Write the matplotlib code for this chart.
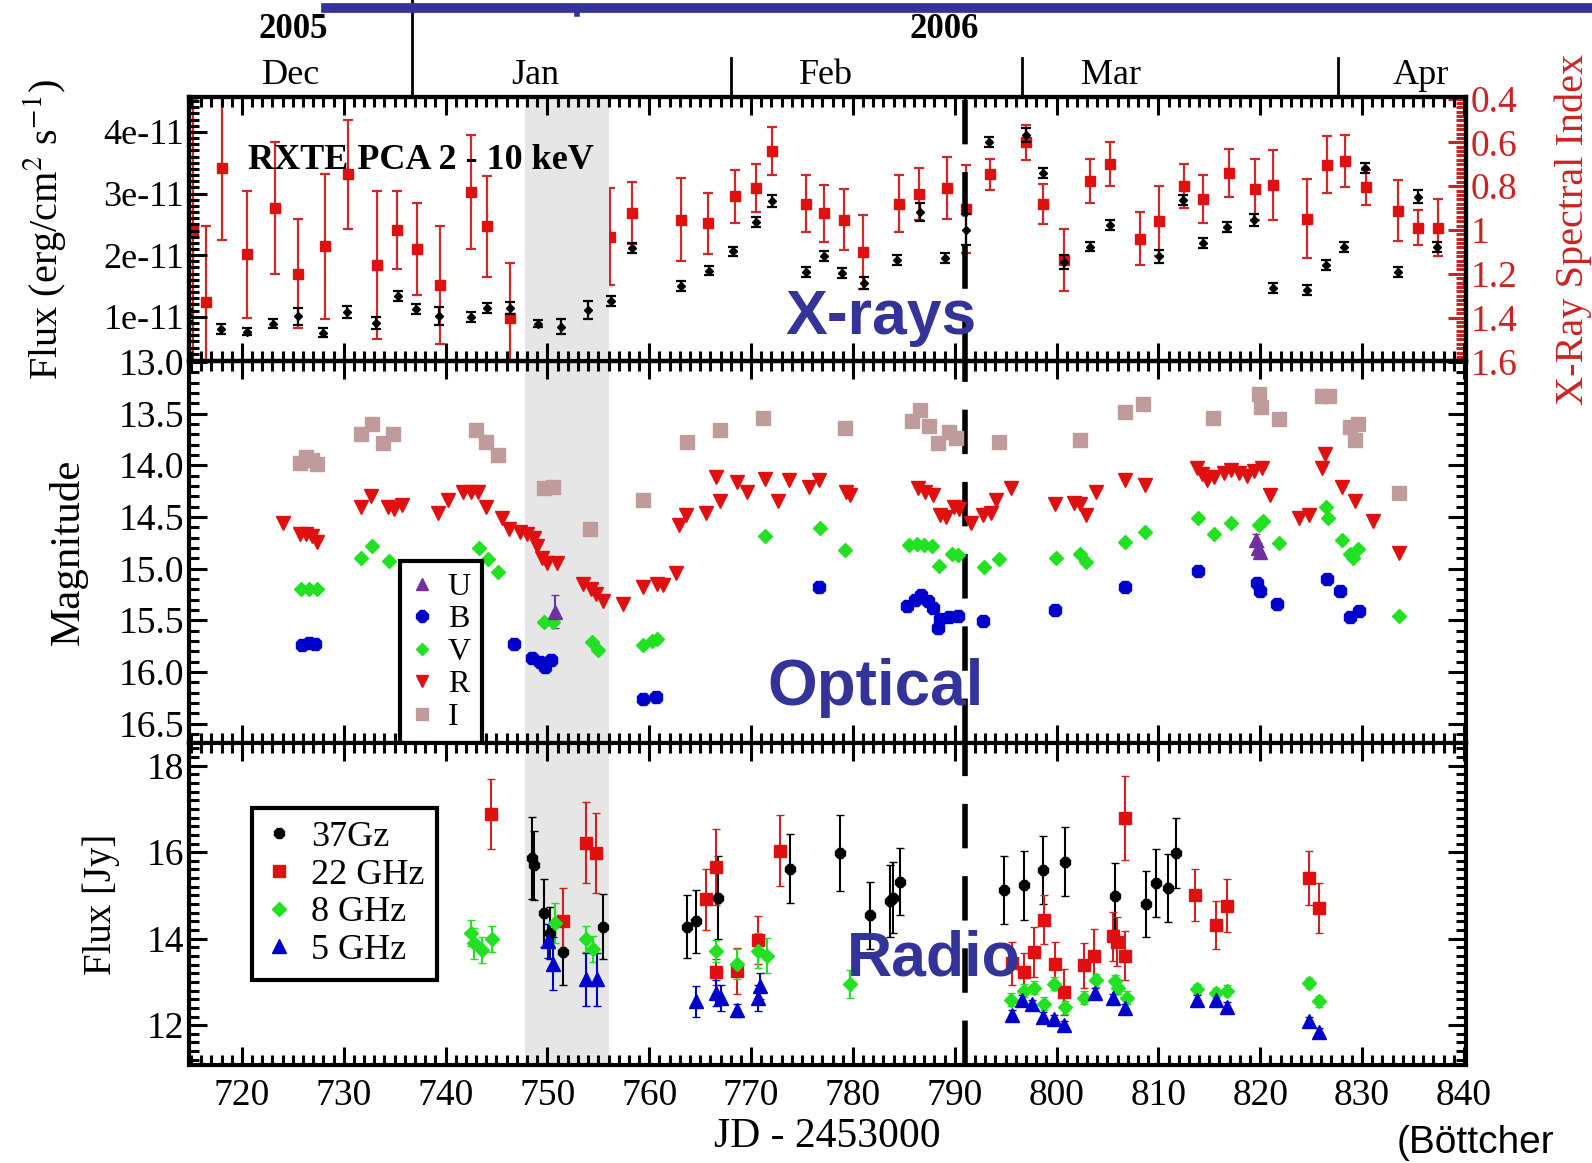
import matplotlib
matplotlib.use("Agg")
import matplotlib.pyplot as plt
from matplotlib.ticker import MultipleLocator, FixedLocator, FixedFormatter
from matplotlib.lines import Line2D

plt.rcParams['font.family'] = ['Liberation Serif', 'DejaVu Serif']
plt.rcParams['mathtext.fontset'] = 'stix'

# ---------------- X-rays: RXTE PCA 2-10 keV ----------------
xray_t = [714.7, 717.9, 720.5, 723.1, 725.5, 728.0, 730.3, 733.2, 735.3, 737.1, 739.4,
          742.5, 744.1, 746.3, 749.1, 751.3, 754.0, 756.2, 758.3, 763.1, 765.9, 768.2,
          770.5, 772.1, 775.4, 777.2, 778.9, 781.1, 784.3, 786.6, 789.0, 791.1, 793.4,
          797.0, 798.7, 800.7, 803.3, 805.2, 810.1, 812.4, 814.4, 816.7, 819.4, 821.3,
          824.6, 826.5, 828.2, 830.3, 833.5, 835.5, 837.4, 840.4]
xray_flux = [1.03, 0.80, 0.76, 0.89, 1.01, 0.74, 1.08, 0.90, 1.34, 1.12, 1.01,
             1.00, 1.14, 1.14, 0.89, 0.84, 1.11, 1.25, 2.11, 1.50, 1.75, 2.06,
             2.54, 2.88, 1.73, 1.98, 1.71, 1.55, 1.92, 2.70, 1.95, 2.41, 3.84,
             3.95, 3.33, 1.89, 2.14, 2.49, 1.98, 2.89, 2.20, 2.46, 2.57, 1.46,
             1.43, 1.84, 2.13, 3.41, 1.72, 2.95, 2.13, 1.19]   # 1e-11 erg/cm2/s
xray_flux_err = [0.10, 0.08, 0.06, 0.08, 0.14, 0.07, 0.10, 0.10, 0.08, 0.08, 0.15,
                 0.08, 0.08, 0.10, 0.06, 0.12, 0.15, 0.08, 0.08, 0.08, 0.08, 0.08,
                 0.08, 0.10, 0.08, 0.08, 0.08, 0.10, 0.08, 0.14, 0.08, 0.25, 0.08,
                 0.12, 0.08, 0.12, 0.08, 0.08, 0.10, 0.08, 0.08, 0.08, 0.10, 0.08,
                 0.08, 0.08, 0.08, 0.08, 0.08, 0.10, 0.08, 0.08]
index_t = [715.2, 716.5, 718.0, 720.5, 723.2, 725.5, 728.2, 730.4, 733.3, 735.2, 737.2,
           739.5, 742.5, 744.1, 746.3, 749.3, 751.3, 754.0, 756.1, 758.3, 763.1, 765.8,
           768.4, 770.5, 772.1, 775.4, 777.2, 779.1, 781.0, 784.5, 786.5, 789.2, 791.1,
           793.5, 797.0, 798.7, 800.7, 803.3, 805.2, 808.2, 810.1, 812.5, 814.4, 816.9,
           819.5, 821.3, 824.6, 826.6, 828.3, 830.4, 833.5, 835.5, 837.5, 840.4]
index_val = [1.00, 1.33, 0.715, 1.11, 0.90, 1.20, 1.075, 0.746, 1.16, 1.00, 1.087,
             1.25, 0.826, 0.984, 1.40, 0.984, 1.42, 1.22, 1.03, 0.923, 0.953, 0.969,
             0.846, 0.81, 0.64, 0.881, 0.923, 0.953, 1.10, 0.881, 0.836, 0.808, 0.903,
             0.746, 0.60, 0.881, 1.137, 0.777, 0.70, 1.04, 0.96, 0.80, 0.857, 0.739,
             0.815, 0.795, 0.949, 0.703, 0.685, 0.805, 0.912, 0.989, 0.989, 1.237]
index_err = [0.60, 0.35, 0.33, 0.29, 0.30, 0.25, 0.33, 0.25, 0.34, 0.18, 0.21,
             0.27, 0.26, 0.23, 0.25, 0.25, 0.25, 0.21, 0.22, 0.14, 0.19, 0.14,
             0.12, 0.11, 0.11, 0.13, 0.13, 0.14, 0.17, 0.13, 0.12, 0.14, 0.20,
             0.07, 0.08, 0.09, 0.14, 0.10, 0.10, 0.12, 0.16, 0.10, 0.11, 0.11,
             0.14, 0.16, 0.18, 0.13, 0.12, 0.08, 0.14, 0.08, 0.13, 0.10]

# ---------------- Optical magnitudes ----------------
U_t = [750.7, 819.6, 819.8, 820.0]
U_mag = [15.42, 14.72, 14.80, 14.84]
U_err = [0.16, 0.05, 0.05, 0.05]
B_t = [725.9, 726.6, 727.2, 746.7, 748.5, 749.3, 749.8, 750.4, 759.4, 760.7, 776.7,
       785.3, 786.1, 786.7, 787.4, 787.9, 788.4, 788.6, 789.4, 790.3, 792.8, 799.8,
       806.7, 813.9, 819.7, 820.0, 821.6, 826.6, 827.8, 828.8, 829.7]
B_mag = [15.74, 15.72, 15.73, 15.73, 15.87, 15.90, 15.95, 15.89, 16.26, 16.24, 15.18,
         15.36, 15.30, 15.26, 15.31, 15.38, 15.58, 15.49, 15.47, 15.46, 15.51, 15.40,
         15.18, 15.02, 15.14, 15.22, 15.34, 15.10, 15.22, 15.47, 15.41]
V_t = [725.8, 726.6, 727.4, 731.7, 732.8, 734.4, 743.3, 744.2, 745.1, 749.7, 750.5,
       754.4, 755.0, 759.4, 760.3, 760.8, 771.4, 776.8, 779.2, 785.5, 786.3, 787.0,
       787.8, 788.5, 789.7, 790.3, 792.9, 794.3, 799.9, 802.3, 802.9, 806.7, 808.7,
       813.9, 815.5, 817.1, 819.9, 820.3, 821.8, 826.5, 826.7, 828.0, 828.8, 829.1,
       829.6, 833.6]
V_mag = [15.20, 15.20, 15.20, 14.90, 14.78, 14.93, 14.80, 14.91, 15.03, 15.52, 15.52,
         15.71, 15.79, 15.74, 15.70, 15.68, 14.69, 14.61, 14.82, 14.77, 14.76, 14.77,
         14.78, 14.98, 14.86, 14.87, 14.99, 14.91, 14.90, 14.86, 14.94, 14.74, 14.65,
         14.51, 14.67, 14.56, 14.58, 14.54, 14.75, 14.40, 14.51, 14.72, 14.86, 14.90,
         14.81, 15.46]
R_t = [724.0, 725.7, 726.3, 726.9, 727.4, 731.7, 732.7, 734.3, 734.9, 735.7, 739.3,
       740.2, 741.7, 742.5, 743.2, 744.0, 745.5, 746.2, 747.3, 748.0, 748.7, 749.0,
       749.5, 750.0, 750.9, 753.5, 754.3, 754.8, 755.5, 757.4, 759.4, 760.8, 761.4,
       762.6, 762.9, 763.6, 765.6, 766.6, 766.9, 768.6, 769.6, 771.4, 772.6, 773.7,
       775.7, 776.7, 779.3, 779.7, 786.4, 787.1, 787.9, 788.6, 789.1, 789.9, 790.4,
       791.6, 792.8, 793.6, 794.1, 795.5, 799.8, 801.7, 802.3, 802.9, 803.9, 806.7,
       808.7, 813.8, 814.3, 814.8, 815.5, 816.4, 817.1, 817.9, 818.7, 819.4, 820.2,
       821.0, 823.8, 824.8, 826.1, 826.4, 828.0, 829.3, 831.1, 833.6]
R_mag = [14.56, 14.67, 14.67, 14.69, 14.74, 14.40, 14.30, 14.40, 14.42, 14.39, 14.46,
         14.34, 14.26, 14.26, 14.26, 14.40, 14.51, 14.62, 14.65, 14.67, 14.70, 14.78,
         14.90, 14.95, 14.95, 15.15, 15.20, 15.25, 15.31, 15.34, 15.18, 15.15, 15.16,
         15.04, 14.58, 14.48, 14.46, 14.11, 14.35, 14.16, 14.26, 14.13, 14.35, 14.14,
         14.21, 14.14, 14.26, 14.29, 14.22, 14.26, 14.29, 14.48, 14.50, 14.40, 14.42,
         14.56, 14.48, 14.46, 14.34, 14.22, 14.38, 14.37, 14.38, 14.48, 14.26, 14.14,
         14.19, 14.03, 14.09, 14.14, 14.11, 14.08, 14.05, 14.08, 14.10, 14.06, 14.03,
         14.29, 14.51, 14.48, 14.03, 13.89, 14.21, 14.35, 14.54, 14.85]
I_t = [725.7, 726.3, 726.9, 727.4, 731.7, 732.8, 733.9, 734.8, 743.0, 744.0, 745.1,
       749.7, 750.5, 754.2, 759.4, 763.7, 766.9, 771.2, 779.2, 785.8, 786.6, 787.5,
       788.4, 789.4, 790.1, 794.3, 802.3, 806.7, 808.5, 815.4, 819.9, 820.1, 821.8,
       826.1, 826.8, 828.8, 829.3, 829.6, 833.6]
I_mag = [13.98, 13.92, 13.95, 13.99, 13.70, 13.60, 13.79, 13.70, 13.66, 13.78, 13.90,
         14.22, 14.21, 14.62, 14.34, 13.78, 13.66, 13.54, 13.64, 13.57, 13.47, 13.62,
         13.79, 13.68, 13.74, 13.78, 13.76, 13.49, 13.41, 13.54, 13.31, 13.44, 13.55,
         13.33, 13.33, 13.63, 13.76, 13.60, 14.27]

# ---------------- Radio fluxes (Jy) ----------------
f37_t = [748.5, 748.7, 749.7, 750.3, 751.5, 755.5, 763.7, 764.6, 766.8, 773.8, 778.7,
         781.7, 783.6, 783.9, 784.6, 794.8, 796.8, 798.7, 800.8, 805.7, 808.8, 809.8,
         810.9, 811.7]
f37 = [15.86, 15.70, 14.60, 14.13, 13.69, 14.28, 14.28, 14.40, 14.95, 15.62, 15.98,
       14.54, 14.87, 14.95, 15.32, 15.13, 15.23, 15.58, 15.78, 14.98, 14.80, 15.29,
       15.17, 15.98]
f37_err = [0.95, 0.80, 0.79, 0.60, 0.75, 0.75, 0.73, 0.73, 0.95, 0.80, 0.87,
           0.78, 0.83, 0.83, 0.77, 0.79, 0.79, 0.79, 0.80, 0.77, 0.76, 0.78,
           0.78, 0.81]
f22_t = [744.5, 751.5, 753.8, 754.8, 765.6, 766.6, 766.6, 768.6, 770.7, 772.8, 795.6,
         796.8, 797.8, 798.8, 799.8, 800.7, 802.7, 803.7, 805.5, 805.9, 806.7, 806.7,
         813.6, 815.7, 816.7, 824.8, 825.8]
f22 = [16.88, 14.40, 16.22, 15.98, 14.91, 15.66, 13.24, 13.26, 13.97, 16.03, 13.43,
       13.22, 13.69, 14.44, 13.42, 12.77, 13.38, 13.61, 14.05, 13.93, 16.79, 13.61,
       15.01, 14.32, 14.76, 15.40, 14.70]
f22_err = [0.81, 0.77, 0.93, 0.93, 0.71, 0.88, 0.30, 0.53, 0.55, 0.82, 0.50,
           0.45, 0.57, 0.56, 0.51, 0.53, 0.51, 0.61, 0.57, 0.57, 0.96, 0.57,
           0.61, 0.55, 0.61, 0.62, 0.58]
f8_t = [742.5, 742.8, 743.6, 744.6, 750.7, 753.8, 754.5, 766.6, 768.6, 770.7, 771.6,
        779.7, 795.5, 796.8, 797.8, 798.8, 799.7, 800.8, 802.7, 803.9, 805.7, 806.0,
        806.9, 813.8, 815.7, 816.7, 824.8, 825.8]
f8 = [14.13, 13.89, 13.73, 13.99, 14.36, 13.99, 13.77, 13.72, 13.42, 13.72, 13.61,
      12.95, 12.59, 12.80, 12.87, 12.49, 12.96, 12.41, 12.63, 13.04, 13.01, 12.87,
      12.63, 12.83, 12.75, 12.80, 12.98, 12.55]
f8_err = [0.30, 0.35, 0.30, 0.30, 0.47, 0.30, 0.30, 0.25, 0.35, 0.40, 0.40,
          0.33, 0.15, 0.15, 0.15, 0.15, 0.15, 0.15, 0.15, 0.15, 0.15, 0.15,
          0.15, 0.12, 0.12, 0.12, 0.12, 0.12]
f5_t = [750.1, 750.5, 753.8, 754.9, 764.6, 766.6, 767.0, 768.6, 770.7, 770.9, 795.6,
        796.6, 797.6, 798.7, 799.7, 800.7, 803.8, 805.5, 806.7, 813.8, 815.7, 816.7,
        824.8, 825.8]
f5 = [13.95, 13.42, 13.06, 13.06, 12.55, 12.75, 12.63, 12.35, 12.63, 12.91, 12.24,
      12.59, 12.49, 12.20, 12.14, 12.00, 12.75, 12.63, 12.39, 12.59, 12.59, 12.43,
      12.09, 11.84]
f5_err = [0.40, 0.61, 0.62, 0.62, 0.35, 0.30, 0.30, 0.15, 0.30, 0.30, 0.10,
          0.10, 0.10, 0.10, 0.10, 0.10, 0.10, 0.10, 0.10, 0.10, 0.10, 0.10,
          0.10, 0.10]

# ---------------- calendar strip ----------------
months = ['Dec', 'Jan', 'Feb', 'Mar', 'Apr']
month_pos = [724.8, 748.8, 777.4, 805.3, 835.8]
month_edges = [768.0, 796.6, 827.6]
years = ['2005', '2006']
year_pos = [725.0, 789.0]
year_edge = 736.7
flare_window = (747.8, 756.0)
jd_mark = 791.0

RED = '#e01010'
GREEN = '#22e022'
BLUE = '#0000cc'
NAVY = '#333399'
TICK = 27

fig = plt.figure(figsize=(15.92, 11.63), dpi=100)
L, W = 0.1187, 0.8021
ax1 = fig.add_axes([L, 0.6893, W, 0.2269])
ax2 = fig.add_axes([L, 0.3610, W, 0.3283], sharex=ax1)
ax3 = fig.add_axes([L, 0.0843, W, 0.2767], sharex=ax1)
axm = fig.add_axes([L, 0.9162, W, 0.0838], sharex=ax1)


def frame(ax, right=True):
    ax.tick_params(which='both', direction='in', top=True, bottom=True,
                   left=True, right=right, width=2.2, labelsize=TICK)
    ax.tick_params(which='major', length=13)
    ax.tick_params(which='minor', length=7)
    ax.xaxis.set_major_locator(MultipleLocator(10))
    ax.xaxis.set_minor_locator(MultipleLocator(1))
    for s in ax.spines.values():
        s.set_linewidth(3)
    ax.axvspan(*flare_window, color='#e6e6e6', zorder=0, lw=0)
    ax.axvline(jd_mark, color='black', lw=4, dashes=(8, 5), zorder=1)


# ---- top panel: X-rays ----
frame(ax1, right=False)
ax1r = ax1.twinx()
ax1r.errorbar(index_t, index_val, yerr=index_err, fmt='s', color=RED, ecolor='#cc2a2a',
              ms=7.5, elinewidth=1.6, capsize=3.5, capthick=1.6, zorder=3)
ax1.errorbar(xray_t, xray_flux, yerr=xray_flux_err, fmt='D', color='black', ms=4,
             elinewidth=1.6, capsize=3.5, capthick=1.6, zorder=4)
ax1.set_zorder(ax1r.get_zorder() + 1)
ax1.patch.set_visible(False)
ax1.set_ylim(0.276, 4.56)
ax1.yaxis.set_major_locator(FixedLocator([1, 2, 3, 4]))
ax1.yaxis.set_major_formatter(FixedFormatter(['1e-11', '2e-11', '3e-11', '4e-11']))
ax1.yaxis.set_minor_locator(MultipleLocator(0.1))
ax1.tick_params(labelbottom=False, labelsize=26)
ax1.set_ylabel('Flux (erg/cm$^{2}$ s$^{-1}$)', fontsize=29)
ax1.yaxis.set_label_coords(-0.095, 0.5)
ax1.text(0.046, 0.76, 'RXTE PCA 2 - 10 keV', transform=ax1.transAxes,
         fontsize=26, fontweight='bold', va='center')

ax1r.set_ylim(1.60, 0.395)
ax1r.yaxis.set_major_locator(FixedLocator([0.4, 0.6, 0.8, 1.0, 1.2, 1.4, 1.6]))
ax1r.yaxis.set_major_formatter(FixedFormatter(['0.4', '0.6', '0.8', '1', '1.2', '1.4', '1.6']))
ax1r.yaxis.set_minor_locator(MultipleLocator(0.02))
ax1r.tick_params(which='both', direction='in', width=2.2, colors='#cc2222',
                 labelsize=TICK, labelcolor='#cc2222')
ax1r.tick_params(which='major', length=13)
ax1r.tick_params(which='minor', length=7)
ax1r.set_ylabel('X-Ray Spectral Index', color='#cc2222', fontsize=29, rotation=90)
ax1r.yaxis.set_label_coords(1.069, 0.5)
for s in ax1r.spines.values():
    s.set_linewidth(3)

# ---- middle panel: optical ----
frame(ax2)
ax2.errorbar(U_t, U_mag, yerr=U_err, fmt='^', color='#7030a0', ms=9.5, elinewidth=1.5,
             capsize=3, label='U', zorder=4)
ax2.plot(B_t, B_mag, '8', color=BLUE, ms=10, label='B', zorder=4)
ax2.plot(V_t, V_mag, 'D', color=GREEN, ms=7.5, label='V', zorder=4)
ax2.plot(R_t, R_mag, 'v', color=RED, ms=10, label='R', zorder=4)
ax2.plot(I_t, I_mag, 's', color='#bf9b9b', ms=10, label='I', zorder=4)
ax2.set_ylim(16.69, 12.995)
ax2.yaxis.set_major_locator(MultipleLocator(0.5))
ax2.yaxis.set_minor_locator(MultipleLocator(0.1))
ax2.yaxis.set_major_formatter(plt.FormatStrFormatter('%.1f'))
ax2.tick_params(labelbottom=False)
ax2.set_ylabel('Magnitude', fontsize=31)
ax2.yaxis.set_label_coords(-0.079, 0.5)
h_opt = [Line2D([], [], ls='none', marker='^', color='#7030a0', ms=9),
         Line2D([], [], ls='none', marker='8', color=BLUE, ms=9),
         Line2D([], [], ls='none', marker='D', color=GREEN, ms=6.5),
         Line2D([], [], ls='none', marker='v', color=RED, ms=9),
         Line2D([], [], ls='none', marker='s', color='#bf9b9b', ms=9)]
leg = ax2.legend(h_opt, ['U', 'B', 'V', 'R', 'I'], loc='lower left',
                 bbox_to_anchor=(0.165, 0.0), borderaxespad=0, fontsize=23,
                 handlelength=0.7, handletextpad=0.45, labelspacing=0.1,
                 borderpad=0.35, fancybox=False, framealpha=1, edgecolor='black')
leg.get_frame().set_linewidth(3)

# ---- bottom panel: radio ----
frame(ax3)
ax3.errorbar(f37_t, f37, yerr=f37_err, fmt='none', ecolor='black', elinewidth=1.5,
             capsize=3, zorder=3)
ax3.errorbar(f22_t, f22, yerr=f22_err, fmt='none', ecolor='#d02020', elinewidth=1.5,
             capsize=3, zorder=3)
ax3.errorbar(f8_t, f8, yerr=f8_err, fmt='none', ecolor=GREEN, elinewidth=1.5,
             capsize=3, zorder=3)
ax3.errorbar(f5_t, f5, yerr=f5_err, fmt='none', ecolor=BLUE, elinewidth=1.5,
             capsize=3, zorder=3)
m37, = ax3.plot(f37_t, f37, '8', color='black', ms=7.5, zorder=5)
m22, = ax3.plot(f22_t, f22, 's', color=RED, ms=8.5, zorder=5)
m8, = ax3.plot(f8_t, f8, 'D', color=GREEN, ms=7.5, zorder=5)
m5, = ax3.plot(f5_t, f5, '^', color=BLUE, ms=9.5, zorder=5)
ax3.set_xlim(714.8, 840.2)
ax3.set_ylim(11.08, 18.52)
ax3.yaxis.set_major_locator(MultipleLocator(2))
ax3.yaxis.set_minor_locator(MultipleLocator(0.2))
ax3.set_ylabel('Flux [Jy]', fontsize=28)
ax3.yaxis.set_label_coords(-0.054, 0.5)
ax3.set_xlabel('JD - 2453000', fontsize=30, labelpad=3)
ax3.tick_params(axis='x', pad=10)
leg3 = ax3.legend([m37, m22, m8, m5], ['37Gz', '22 GHz', '8 GHz', '5 GHz'],
                  loc='upper left', bbox_to_anchor=(0.049, 0.798), borderaxespad=0,
                  fontsize=26, handlelength=0.8, handletextpad=0.5, labelspacing=0.12,
                  borderpad=0.35, fancybox=False, framealpha=1, edgecolor='black')
leg3.get_frame().set_linewidth(3)

# ---- calendar strip ----
axm.set_ylim(0, 1)
axm.axis('off')
axm.plot([year_edge, year_edge], [0, 1], color='black', lw=2)
for e in month_edges:
    axm.plot([e, e], [0, 0.41], color='black', lw=2)
for m, p in zip(months, month_pos):
    axm.text(p, 0.23, m, ha='center', va='center', fontsize=26)
for y, p in zip(years, year_pos):
    axm.text(p, 0.70, y, ha='center', va='center', fontsize=25, fontweight='bold')

# slide decorations
fig.add_artist(Line2D([0.2045, 1.0], [0.9935, 0.9935], color=NAVY, lw=7))
fig.add_artist(Line2D([0.3626, 0.3626], [0.9935, 0.9880], color=NAVY, lw=4))
for txt, x, y, fs in [('X-rays', 0.5536, 0.7267, 45), ('Optical', 0.5497, 0.4081, 46),
                      ('Radio', 0.5867, 0.1750, 45)]:
    fig.text(x, y, txt, ha='center', va='center', fontsize=fs, fontweight='bold',
             color=NAVY, family='Liberation Sans')
fig.text(0.877, 0.002, '(Böttcher', ha='left', va='bottom', fontsize=28,
         family='Liberation Sans')

plt.savefig('out.png', dpi=100)
